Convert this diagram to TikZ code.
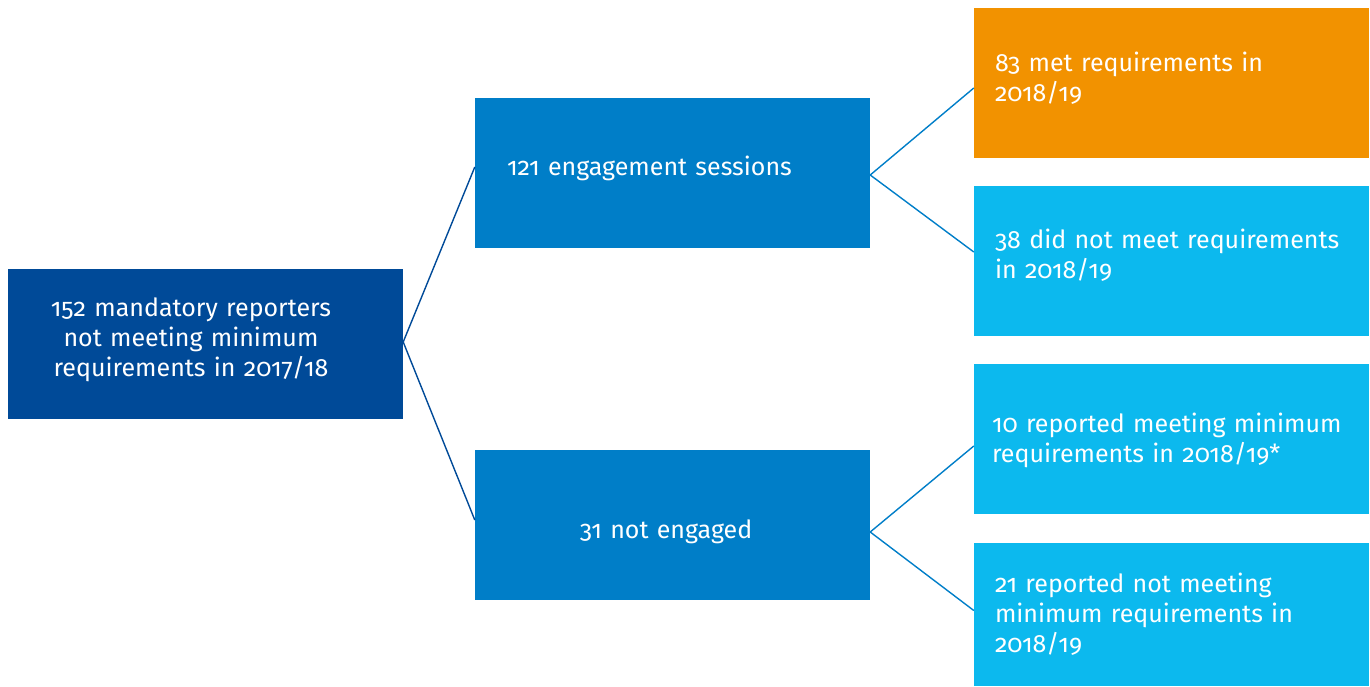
\documentclass[tikz,border=0pt]{standalone}
\usepackage{fontspec}
\setmainfont{Fira Sans}[Numbers=OldStyle]
\definecolor{darkblue}{RGB}{0,74,152}
\definecolor{midblue}{RGB}{0,126,200}
\definecolor{lightblue}{RGB}{12,185,238}
\definecolor{orangec}{RGB}{242,146,0}
\newcommand{\shiftline}[2]{\hspace*{#1}\mbox{#2}}
\tikzset{
  boxbase/.style={draw=none, text=white, minimum width=395pt, inner sep=0pt,
     font=\fontsize{25}{30}\selectfont},
  leftbox/.style={boxbase, fill=darkblue, minimum height=150pt, align=center, text width=340pt},
  midbox/.style={boxbase, fill=midblue, minimum height=150pt},
  rightbox/.style={boxbase, fill=lightblue, minimum height=150pt, align=left, text width=353pt},
  orangebox/.style={rightbox, fill=orangec},
  darkline/.style={draw=darkblue, line width=1.4pt},
  midline/.style={draw=midblue, line width=1.4pt}
}
\begin{document}
\begin{tikzpicture}[x=1pt,y=-1pt]
\useasboundingbox (0,0) rectangle (1370,686);
\node[leftbox] (src) at (205.5,344) {\shiftline{-29pt}{152 mandatory reporters}\\\shiftline{-29pt}{not meeting minimum}\\\shiftline{-29pt}{requirements in 2017/18}\\[-16pt]\mbox{}};
\node[midbox, align=left, text width=331pt] (eng) at (672.5,173) {\mbox{121 engagement sessions}\\[-16pt]\mbox{}};
\node[midbox, align=center, text width=331pt] (noeng) at (672.5,525) {\mbox{}\\[2pt]\shiftline{-13pt}{31 not engaged}};
\node[orangebox] (met) at (1171.5,83) {\mbox{83 met requirements in}\\\mbox{2018/19}\\[-18pt]\mbox{}};
\node[rightbox] (notmet) at (1171.5,261) {\mbox{38 did not meet requirements}\\\mbox{in 2018/19}\\[-16pt]\mbox{}};
\node[rightbox] (repmet) at (1171.5,439) {\shiftline{-3pt}{10 reported meeting minimum}\\\shiftline{-3pt}{requirements in 2018/19*}\\[-28pt]\mbox{}};
\node[rightbox, minimum height=143pt] (repnot) at (1171.5,614.5) {\mbox{21 reported not meeting}\\\mbox{minimum requirements in}\\\mbox{2018/19}};
\draw[darkline] ([yshift=2pt]src.east) -- ([yshift=6pt]eng.west);
\draw[darkline] ([yshift=2pt]src.east) -- ([yshift=5pt]noeng.west);
\draw[midline] ([yshift=-2pt]eng.east) -- ([yshift=-5pt]met.west);
\draw[midline] ([yshift=-2pt]eng.east) -- ([yshift=9pt]notmet.west);
\draw[midline] ([yshift=-7pt]noeng.east) -- ([yshift=-7pt]repmet.west);
\draw[midline] ([yshift=-7pt]noeng.east) -- ([yshift=4pt]repnot.west);
\end{tikzpicture}
\end{document}
